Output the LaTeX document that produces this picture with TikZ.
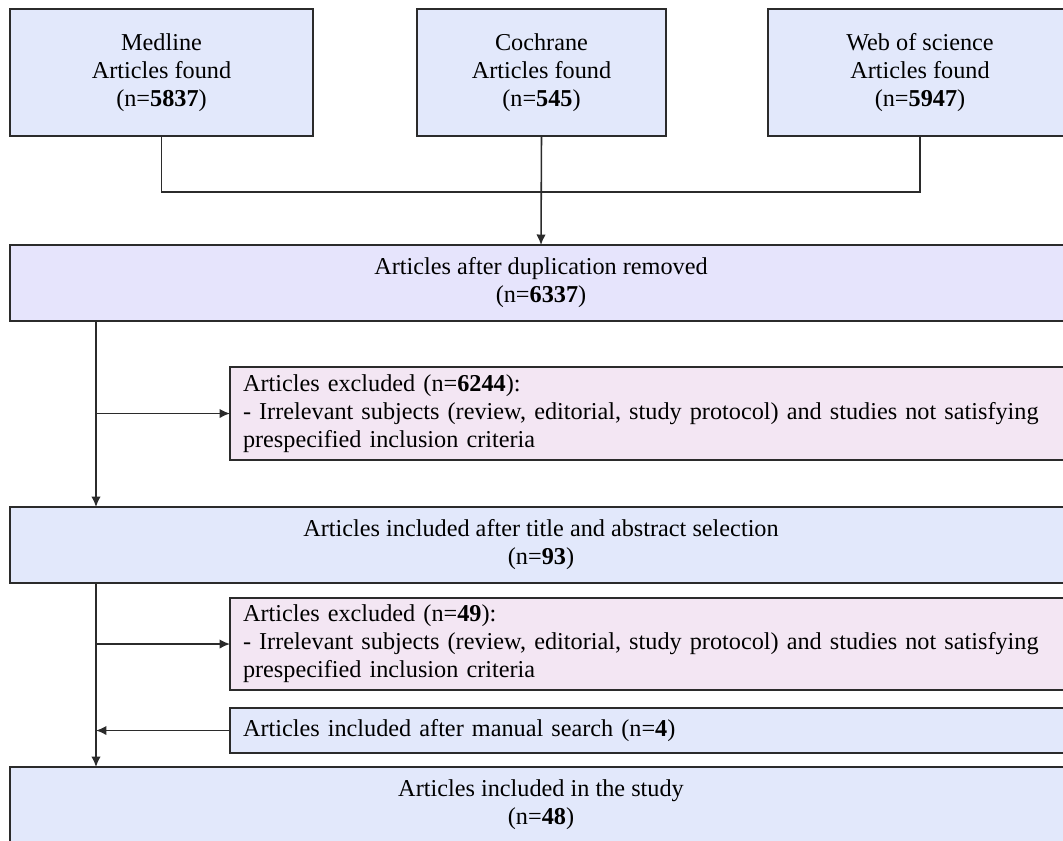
\documentclass[tikz,border=0pt]{standalone}
\usepackage{fontspec}
\setmainfont{Liberation Serif}
\usetikzlibrary{arrows.meta,positioning}

\definecolor{boxblue}{HTML}{E2E8FB}
\definecolor{boxlilac}{HTML}{E6E4FC}
\definecolor{boxpink}{HTML}{F3E6F3}
\definecolor{edgegray}{HTML}{2B2B2B}
\def\pxu{0.02cm}

\begin{document}
\begin{tikzpicture}[x=0.02cm, y=-0.02cm,
	every node/.style={font=\fontsize{13.8}{15.9}\selectfont, outer sep=0pt, inner sep=0pt},
	stage/.style={draw=edgegray, line width=0.9pt, fill=boxblue, align=center},
	note/.style={draw=edgegray, line width=0.9pt, fill=boxpink, align=left, anchor=west,
		text width=816*\pxu, inner xsep=13*\pxu},
	link/.style={draw=edgegray, line width=0.9pt},
	arr/.style={link, -{Latex[length=0.21cm,width=0.19cm]}}]

	\clip (0,0) rectangle (1063,840);

	% sources
	\node[stage, minimum width=303*\pxu, minimum height=127*\pxu] (medline) at (161.5,72.5)
		{Medline\\Articles found\\(n=\textbf{5837})};
	\node[stage, minimum width=249*\pxu, minimum height=127*\pxu] (cochrane) at (541.5,72.5)
		{Cochrane\\Articles found\\(n=\textbf{545})};
	\node[stage, minimum width=304*\pxu, minimum height=127*\pxu] (wos) at (920,72.5)
		{Web of science\\Articles found\\(n=\textbf{5947})};

	% main column
	\node[stage, fill=boxlilac, minimum width=1062*\pxu, minimum height=76*\pxu] (dedup) at (541,283)
		{Articles after duplication removed\\(n=\textbf{6337})};
	\node[note, minimum height=93*\pxu] (excla) at (230,413.5)
		{Articles excluded (n=\textbf{6244}):\\
		- Irrelevant subjects (review, editorial, study protocol) and studies not satisfying\\
		prespecified inclusion criteria};
	\node[stage, minimum width=1062*\pxu, minimum height=76*\pxu] (screen) at (541,545)
		{Articles included after title and abstract selection\\(n=\textbf{93})};
	\node[note, minimum height=92*\pxu] (exclb) at (230,644)
		{Articles excluded (n=\textbf{49}):\\
		- Irrelevant subjects (review, editorial, study protocol) and studies not satisfying\\
		prespecified inclusion criteria};
	\node[note, fill=boxblue, minimum height=45*\pxu] (manual) at (230,730.5)
		{Articles included after manual search (n=\textbf{4})};
	\node[stage, minimum width=1062*\pxu, minimum height=76*\pxu] (study) at (541,805)
		{Articles included in the study\\(n=\textbf{48})};

	% connectors
	\coordinate (join) at (541.5,192);
	\coordinate (trunk) at (96,0);
	\draw[link] (medline.south) |- (join) -| (wos.south);
	\draw[arr] (cochrane.south) -- (dedup.north);
	\draw[arr] (trunk |- dedup.south) -- (trunk |- screen.north); % down to screening
	\draw[arr] (trunk |- excla.west) -- (excla.west); % excluded
	\draw[arr] (trunk |- screen.south) -- (trunk |- study.north); % down to study
	\draw[arr] (trunk |- exclb.west) -- (exclb.west); % excluded
	\draw[arr] (manual.west) -- (trunk |- manual.west); % manual search in
\end{tikzpicture}
\end{document}
